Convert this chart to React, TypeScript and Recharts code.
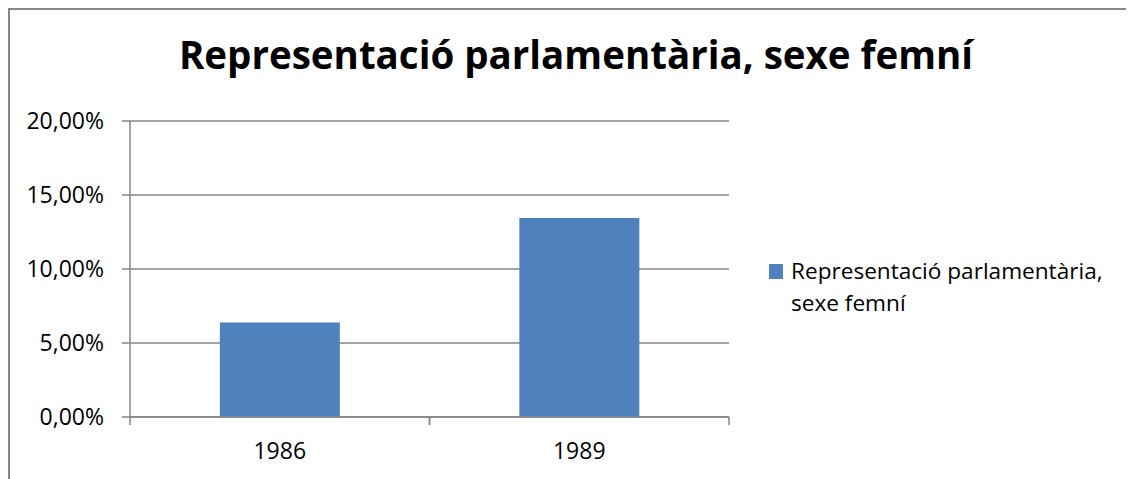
import React from 'react';
import { BarChart, Bar, XAxis, YAxis, CartesianGrid } from 'recharts';

const categories = ['1986', '1989'];
const values = [6.38, 13.45];
const yTicks = [0, 5, 10, 15, 20];
const seriesName = 'Representació parlamentària, sexe femní';
const title = 'Representació parlamentària, sexe femní';

const data = categories.map((c, i) => ({ year: c, value: values[i] }));

const GRAY = '#868686';
const BLUE = '#4F81BD';
const FONT = '"Open Sans", "Noto Sans", sans-serif';

const CHART_W = 1110;
const CHART_H = 460;
const MARGIN = { top: 111, right: 391, left: 0, bottom: 0 };
const Y_W = 120;
const PLOT_W = CHART_W - MARGIN.left - MARGIN.right - Y_W;
const TICK = 8;
const TICK_GAP = 18;

const fmt = (v: number) => `${v.toFixed(2).replace('.', ',')}%`;

// category labels in the middle, tick marks on the band edges (Excel style)
const XTick = (props: any) => {
  const { x, y, payload } = props;
  const band = PLOT_W / categories.length;
  const y0 = y - TICK - TICK_GAP;
  return (
    <g>
      <line x1={x - band / 2} x2={x - band / 2} y1={y0} y2={y0 + TICK} stroke={GRAY} strokeWidth={1.5} />
      <line x1={x + band / 2} x2={x + band / 2} y1={y0} y2={y0 + TICK} stroke={GRAY} strokeWidth={1.5} />
      <text x={x} y={y} dy="0.71em" textAnchor="middle" fill="#000" fontSize={23}>
        {payload.value}
      </text>
    </g>
  );
};

export default function App() {
  return (
    <div
      style={{
        position: 'relative',
        width: 1126,
        height: 471,
        boxSizing: 'border-box',
        borderLeft: `2px solid ${GRAY}`,
        borderTop: `2px solid ${GRAY}`,
        overflow: 'hidden',
        fontFamily: FONT,
        background: '#fff',
      }}
    >
      <style>{'html,body{overflow:hidden}::-webkit-scrollbar{display:none}'}</style>
      <div
        style={{
          position: 'absolute',
          left: 0,
          top: 25,
          width: 1132,
          textAlign: 'center',
          fontSize: 38.5,
          lineHeight: '38.5px',
          fontWeight: 700,
          color: '#000',
          whiteSpace: 'nowrap',
        }}
      >
        {title}
      </div>
      <div style={{ position: 'absolute', left: 0, top: 0 }}>
        <BarChart width={CHART_W} height={CHART_H} data={data} margin={MARGIN} barCategoryGap="30%">
          <CartesianGrid vertical={false} stroke={GRAY} strokeWidth={1.5} />
          <XAxis
            dataKey="year"
            height={53}
            axisLine={{ stroke: GRAY, strokeWidth: 1.5 }}
            tickLine={false}
            tickSize={TICK}
            tickMargin={TICK_GAP}
            tick={<XTick />}
            interval={0}
          />
          <YAxis
            width={Y_W}
            domain={[0, 20]}
            ticks={yTicks}
            tickFormatter={fmt}
            axisLine={{ stroke: GRAY, strokeWidth: 1.5 }}
            tickLine={{ stroke: GRAY, strokeWidth: 1.5 }}
            tickSize={TICK}
            tickMargin={TICK_GAP}
            tick={{ fill: '#000', fontSize: 23 }}
          />
          <Bar dataKey="value" name={seriesName} fill={BLUE} isAnimationActive={false} />
        </BarChart>
      </div>
      <div
        style={{
          position: 'absolute',
          left: 759,
          top: 244.5,
          width: 345,
          display: 'flex',
          alignItems: 'flex-start',
          fontSize: 22.6,
          lineHeight: '32px',
          color: '#000',
        }}
      >
        <span style={{ width: 14, height: 15, background: BLUE, marginTop: 9.5, marginRight: 8, flexShrink: 0 }} />
        <span>{seriesName}</span>
      </div>
    </div>
  );
}
